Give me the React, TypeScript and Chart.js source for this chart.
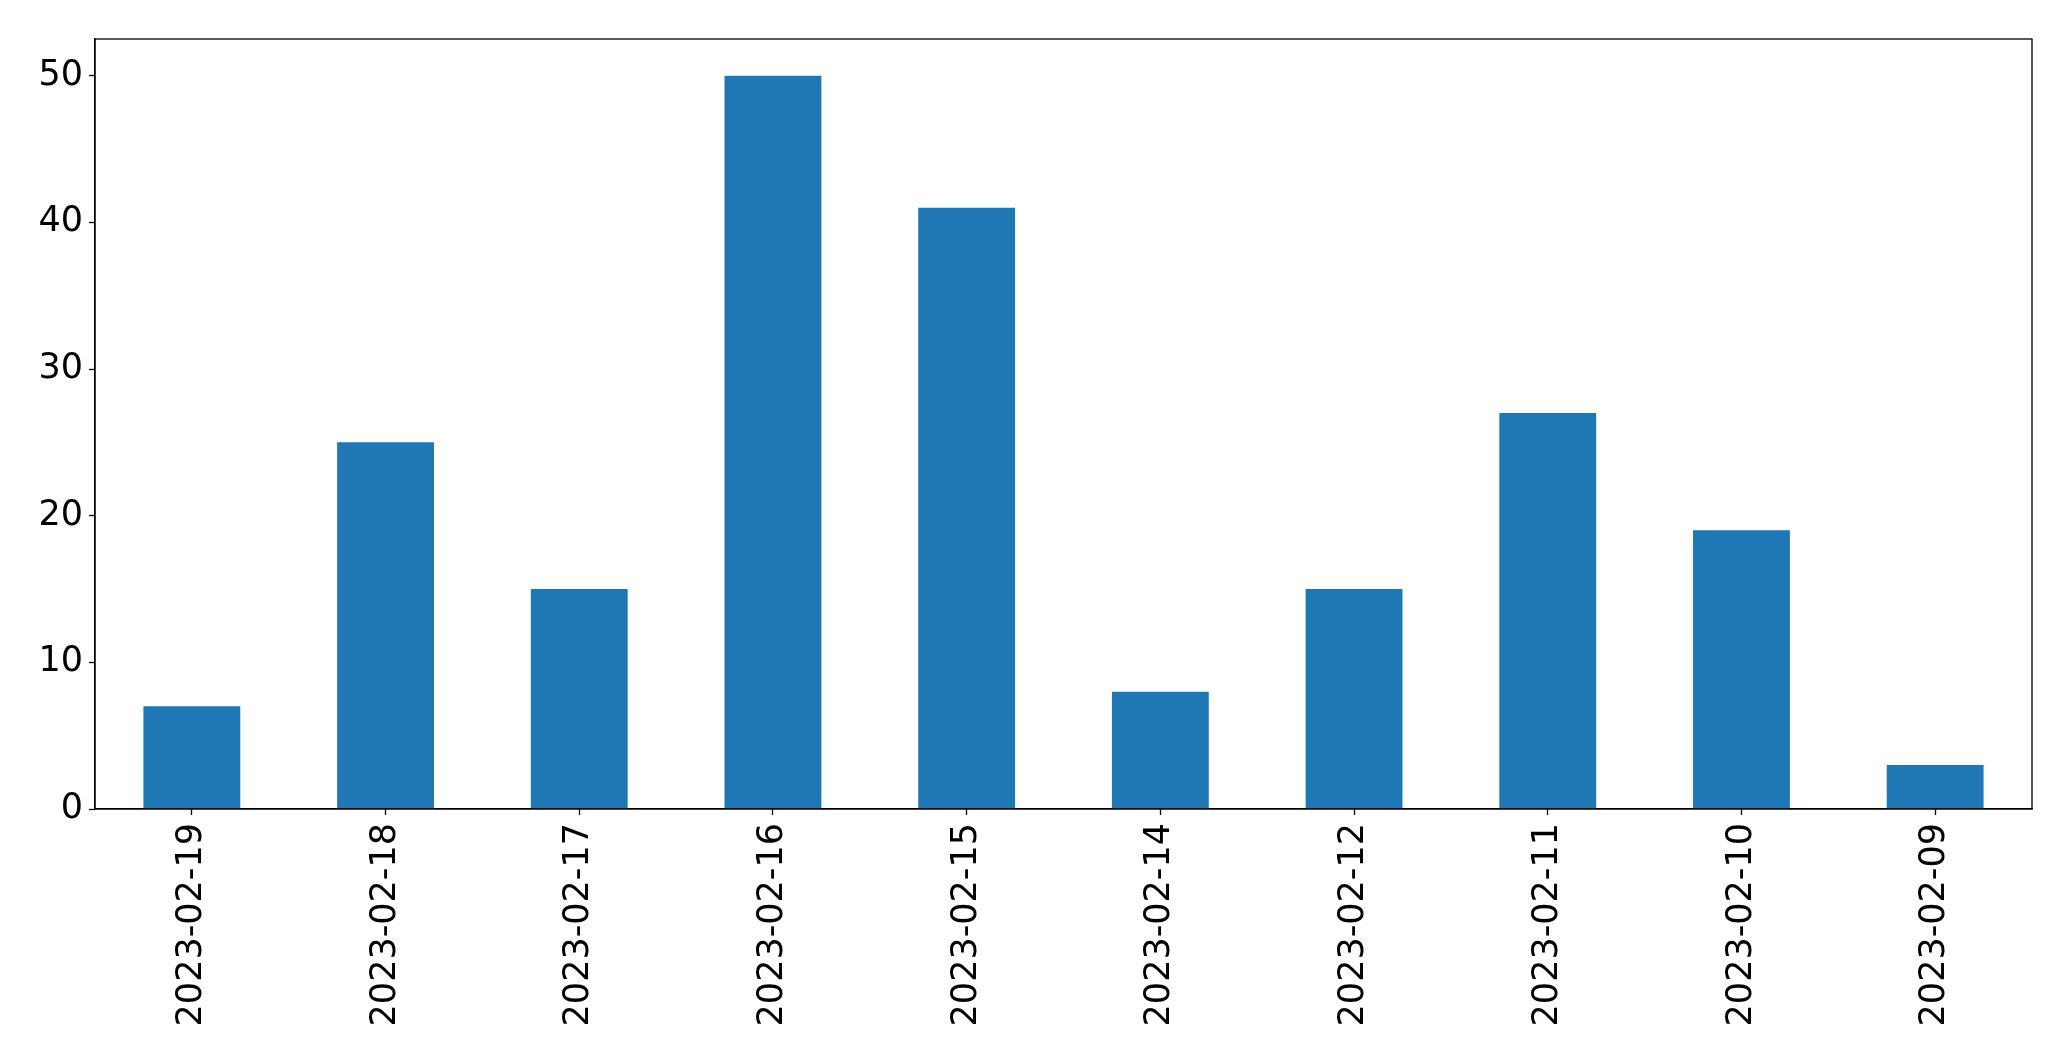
import React, { useEffect, useRef } from "react";
import { Chart, registerables } from "chart.js";

Chart.register(...registerables);

const categories = [
  "2023-02-19",
  "2023-02-18",
  "2023-02-17",
  "2023-02-16",
  "2023-02-15",
  "2023-02-14",
  "2023-02-12",
  "2023-02-11",
  "2023-02-10",
  "2023-02-09",
];
const values = [7, 25, 15, 50, 41, 8, 15, 27, 19, 3];
const yMin = 0;
const yMax = 52.5;
const yStep = 10;

const W = 2071;
const H = 1061;

const frame = {
  id: "frame",
  afterDraw(chart: any) {
    const { ctx, chartArea } = chart;
    ctx.save();
    ctx.strokeStyle = "#000";
    ctx.lineWidth = 1.3;
    ctx.strokeRect(chartArea.left, chartArea.top, chartArea.right - chartArea.left, chartArea.bottom - chartArea.top);
    ctx.restore();
  },
};

export default function App() {
  const ref = useRef<HTMLCanvasElement | null>(null);
  useEffect(() => {
    if (!ref.current) return;
    const font = { family: "'DejaVu Sans'", size: 35 };
    const chart = new Chart(ref.current, {
      type: "bar",
      data: {
        labels: categories,
        datasets: [
          {
            data: values,
            backgroundColor: "#1f77b4",
            borderWidth: 0,
            categoryPercentage: 1,
            barPercentage: 0.5,
          },
        ],
      },
      options: {
        responsive: false,
        animation: false,
        devicePixelRatio: 1,
        layout: { padding: { left: 0, top: 39, right: 39, bottom: 0 } },
        plugins: { legend: { display: false }, tooltip: { enabled: false } },
        scales: {
          x: {
            grid: {
              offset: false,
              drawOnChartArea: false,
              drawTicks: true,
              tickLength: 6,
              tickColor: "#000",
              tickWidth: 1.3,
            },
            border: { display: true, color: "#000", width: 1.3 },
            ticks: {
              color: "#000",
              font,
              minRotation: 90,
              maxRotation: 90,
              autoSkip: false,
              padding: 8,
            },
            afterFit(scale: any) {
              scale.height = 252;
            },
          },
          y: {
            min: yMin,
            max: yMax,
            grid: {
              drawOnChartArea: false,
              drawTicks: true,
              tickLength: 6,
              tickColor: "#000",
              tickWidth: 1.3,
            },
            border: { display: true, color: "#000", width: 1.3 },
            ticks: {
              stepSize: yStep,
              includeBounds: false,
              color: "#000",
              font,
              padding: 6,
            },
            afterFit(scale: any) {
              scale.width = 95;
            },
          },
        },
      },
      plugins: [frame],
    });
    return () => chart.destroy();
  }, []);
  return (
    <div style={{ position: "fixed", left: 0, top: 0, width: W, height: H, background: "#fff" }}>
      <canvas ref={ref} width={W} height={H} style={{ width: W, height: H, display: "block" }} />
    </div>
  );
}
